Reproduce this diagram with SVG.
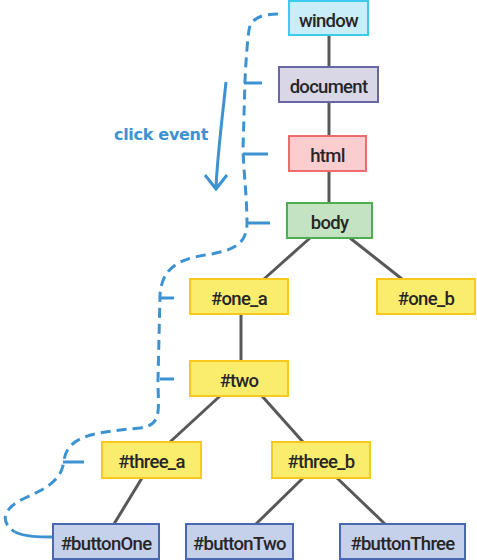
<svg xmlns="http://www.w3.org/2000/svg" width="477" height="560" viewBox="0 0 477 560">
<style>
.n rect{stroke-width:2}
.n text{font-family:Roboto,"Open Sans","DejaVu Sans",sans-serif;font-size:18.5px;font-weight:500;fill:#262626;text-anchor:middle;letter-spacing:-0.7px}
.edge{stroke:#585858;stroke-width:3;fill:none}
.flow{stroke:#3d92d2;stroke-width:3;fill:none;stroke-linecap:butt}
.yel{fill:#faed6e;stroke:#f9c81c}
.btn{fill:#c5d0ea;stroke:#4a68b2}
</style>
<rect width="477" height="560" fill="#ffffff"/>
<g id="connectors">
<line class="edge" x1="329" y1="35" x2="329" y2="67"/>
<line class="edge" x1="329" y1="102" x2="329" y2="135"/>
<line class="edge" x1="329" y1="171" x2="329" y2="203"/>
<line class="edge" x1="310" y1="238" x2="264" y2="279"/>
<line class="edge" x1="350" y1="238" x2="402" y2="279"/>
<line class="edge" x1="241" y1="314" x2="241" y2="361"/>
<line class="edge" x1="220" y1="396" x2="170" y2="442"/>
<line class="edge" x1="262" y1="396" x2="303" y2="442"/>
<line class="edge" x1="142" y1="478" x2="114" y2="524"/>
<line class="edge" x1="303" y1="478" x2="256" y2="524"/>
<line class="edge" x1="337" y1="478" x2="385" y2="524"/>
</g>
<g id="event-path">
<path class="flow" stroke-dasharray="10,6" d="M278,14 C262,14 251,18 249,30 C247,45 246,60 245,80 L243,150 C244,175 247,200 247,223 C247,245 232,251 205,255 C175,260 162,270 160,295 L158,380 C158,410 163,425 140,428 C100,432 68,434 64,460 C62,478 52,486 25,498 C3,508 -1,522 15,532"/>
<path class="flow" d="M15,532 C25,537 40,537 53,537"/>
<path class="flow" d="M244,83 H262 M243,154 H268 M247,223 H270 M160,298 H174 M160,379 H174 M63,462 H84"/>
<path class="flow" d="M226,82 C222,120 217,160 216,188 M205,175 L216,189 L227,175"/>
<text x="161" y="140" font-family="'Comic Sans MS','DejaVu Sans',sans-serif" font-weight="bold" font-size="16" fill="#3d92d2" text-anchor="middle" letter-spacing="-0.3">click event</text>
</g>
<g id="window" class="n"><rect x="289" y="1" width="79" height="34" fill="#c9edf9" stroke="#3ccaee"/><text x="328.5" y="26.5">window</text></g>
<g id="document" class="n"><rect x="279" y="67" width="99" height="35" fill="#d9d6e6" stroke="#6767a7"/><text x="328.5" y="92.5">document</text></g>
<g id="html" class="n"><rect x="289" y="136" width="77" height="35" fill="#fbcdce" stroke="#ef6a6a"/><text x="327.5" y="161.5">html</text></g>
<g id="body" class="n"><rect x="287" y="203" width="85" height="35" fill="#c3e3c3" stroke="#4cae50"/><text x="329.5" y="228.5">body</text></g>
<g id="one_a" class="n"><rect class="yel" x="190" y="279" width="98" height="35"/><text x="239" y="304.5">#one_a</text></g>
<g id="one_b" class="n"><rect class="yel" x="377" y="279" width="98" height="35"/><text x="426" y="304.5">#one_b</text></g>
<g id="two" class="n"><rect class="yel" x="190" y="361" width="98" height="35"/><text x="239" y="386.5">#two</text></g>
<g id="three_a" class="n"><rect class="yel" x="102" y="442" width="99" height="36"/><text x="151.5" y="467.5">#three_a</text></g>
<g id="three_b" class="n"><rect class="yel" x="272" y="442" width="98" height="36"/><text x="321" y="467.5">#three_b</text></g>
<g id="buttonOne" class="n"><rect class="btn" x="53" y="524" width="106" height="35"/><text x="106" y="549.5">#buttonOne</text></g>
<g id="buttonTwo" class="n"><rect class="btn" x="186" y="524" width="107" height="35"/><text x="239.5" y="549.5">#buttonTwo</text></g>
<g id="buttonThree" class="n"><rect class="btn" x="340" y="524" width="125" height="35"/><text x="402.5" y="549.5">#buttonThree</text></g>
</svg>
